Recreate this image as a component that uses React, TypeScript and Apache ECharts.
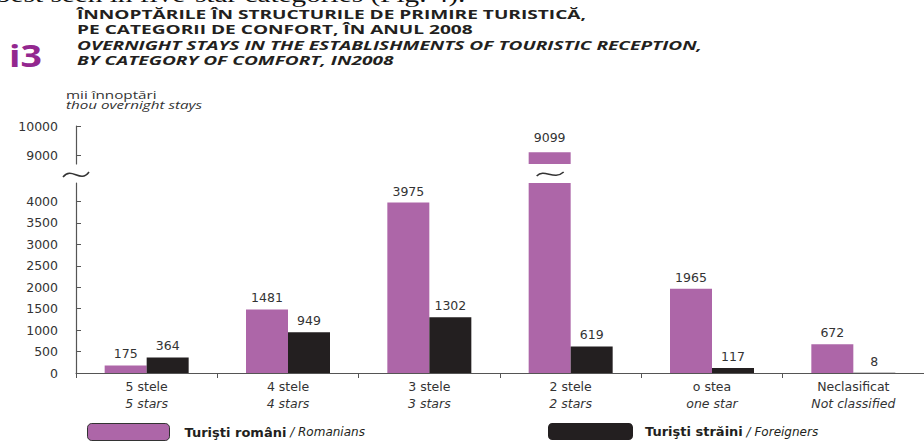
import React, { useEffect, useRef } from 'react';
import * as echarts from 'echarts';

const categoriesRo = ['5 stele', '4 stele', '3 stele', '2 stele', 'o stea', 'Neclasificat'];
const categoriesEn = ['5 stars', '4 stars', '3 stars', '2 stars', 'one star', 'Not classified'];
const romanians = [175, 1481, 3975, 9099, 1965, 672];
const foreigners = [364, 949, 1302, 619, 117, 8];
const lowerTicks = [0, 500, 1000, 1500, 2000, 2500, 3000, 3500, 4000];
const upperTicks = [9000, 10000];
const seriesNames = ['Turişti români', 'Turişti străini'];
const seriesNamesEn = ['Romanians', 'Foreigners'];

const LOWER_MAX = 4430;
const UPPER_MIN = 8700;
const UPPER_MAX = 10000;

const PURPLE = '#ad66a8';
const BLACK = '#231f20';
const WIDE = '"DejaVu Sans", "Open Sans", sans-serif';
const TITLE = '"Open Sans", "Noto Sans", sans-serif';

export default function App() {
  const ref = useRef<HTMLDivElement>(null);
  useEffect(() => {
    if (!ref.current) return;
    const chart = echarts.init(ref.current, null, { renderer: 'svg' });
    const labelStyle = { color: '#333', fontSize: 12.5, fontFamily: WIDE };
    const gridLeft = 76;
    const gridWidth = 858;
    const sx = 1.47;
    const option: any = {
      animation: false,
      textStyle: { fontFamily: WIDE },
      grid: [
        { left: gridLeft, width: gridWidth, top: 183, height: 190 },
        { left: gridLeft, width: gridWidth, top: 126, height: 38 },
      ],
      xAxis: [
        {
          type: 'category',
          gridIndex: 0,
          data: categoriesRo,
          axisLine: { lineStyle: { color: '#555', width: 1 } },
          axisTick: { show: true, length: 5, lineStyle: { color: '#555' } },
          axisLabel: {
            margin: 5,
            interval: 0,
            formatter: (v: string, i: number) => `{a|${v}}\n{b|${categoriesEn[i]}}`,
            rich: {
              a: { fontSize: 12.5, color: '#333', lineHeight: 17, fontFamily: WIDE },
              b: { fontSize: 12.5, color: '#333', lineHeight: 17, fontStyle: 'italic', fontFamily: WIDE },
            },
          },
        },
        {
          type: 'category',
          gridIndex: 1,
          data: categoriesRo,
          show: false,
        },
      ],
      yAxis: [
        {
          type: 'value',
          gridIndex: 0,
          min: 0,
          max: LOWER_MAX,
          splitLine: { show: false },
          axisLine: { show: true, lineStyle: { color: '#555', width: 1.2 } },
          axisTick: { show: true, inside: true, length: 5, customValues: lowerTicks, lineStyle: { color: '#555' } },
          axisLabel: { customValues: lowerTicks, margin: 18, ...labelStyle, formatter: (v: number) => String(v) },
        },
        {
          type: 'value',
          gridIndex: 1,
          min: UPPER_MIN,
          max: UPPER_MAX,
          splitLine: { show: false },
          axisLine: { show: true, lineStyle: { color: '#555', width: 1.2 } },
          axisTick: { show: true, inside: true, length: 5, customValues: upperTicks, lineStyle: { color: '#555' } },
          axisLabel: { customValues: upperTicks, margin: 18, ...labelStyle, formatter: (v: number) => String(v) },
        },
      ],
      legend: [
        {
          left: 87,
          top: 423,
          padding: 0,
          itemWidth: 82,
          itemHeight: 17,
          data: [seriesNames[0]],
          itemStyle: { borderColor: '#333', borderWidth: 1 },
          formatter: (n: string) => `{b|${n}} {i|/ ${seriesNamesEn[0]}}`,
          textStyle: {
            rich: {
              b: { fontWeight: 'bold', fontSize: 13, color: '#231f20', fontFamily: WIDE, padding: [0, 0, 0, 10] },
              i: { fontStyle: 'italic', fontSize: 12, color: '#231f20', fontFamily: WIDE },
            },
          },
        },
        {
          left: 548,
          top: 423,
          padding: 0,
          itemWidth: 85,
          itemHeight: 17,
          data: [seriesNames[1]],
          formatter: (n: string) => `{b|${n}} {i|/ ${seriesNamesEn[1]}}`,
          textStyle: {
            rich: {
              b: { fontWeight: 'bold', fontSize: 13, color: '#231f20', fontFamily: WIDE, padding: [0, 0, 0, 7] },
              i: { fontStyle: 'italic', fontSize: 12, color: '#231f20', fontFamily: WIDE },
            },
          },
        },
      ],
      series: [
        {
          name: seriesNames[0],
          type: 'bar',
          xAxisIndex: 0,
          yAxisIndex: 0,
          barWidth: 42,
          barGap: 0,
          clip: true,
          itemStyle: { color: PURPLE },
          label: { show: true, position: 'top', distance: 5, ...labelStyle },
          data: romanians.map((v) => (v > LOWER_MAX ? { value: v, label: { show: false } } : v)),
        },
        {
          name: seriesNames[1],
          type: 'bar',
          xAxisIndex: 0,
          yAxisIndex: 0,
          barWidth: 42,
          barGap: 0,
          itemStyle: { color: BLACK },
          label: { show: true, position: 'top', distance: 5, ...labelStyle },
          data: foreigners,
        },
        {
          name: seriesNames[0],
          type: 'bar',
          xAxisIndex: 1,
          yAxisIndex: 1,
          barWidth: 42,
          barGap: 0,
          clip: true,
          itemStyle: { color: PURPLE },
          label: { show: true, position: 'top', distance: 8, ...labelStyle },
          data: romanians.map((v) => (v > LOWER_MAX ? v : '-')),
        },
        {
          name: seriesNames[1],
          type: 'bar',
          xAxisIndex: 1,
          yAxisIndex: 1,
          barWidth: 42,
          barGap: 0,
          itemStyle: { color: BLACK },
          data: foreigners.map((v) => (v > LOWER_MAX ? v : '-')),
        },
      ],
      graphic: [
        {
          type: 'text',
          x: -4,
          y: 6,
          scaleX: 1.33,
          style: {
            text: 'best seen in five-star categories (Fig. 4).',
            font: '22px "Liberation Serif", serif',
            fill: '#111',
            verticalAlign: 'bottom',
          },
        },
        {
          type: 'text',
          x: 9,
          y: 56,
          scaleX: 1.25,
          style: {
            text: 'i3',
            font: 'bold 30px "Open Sans", sans-serif',
            fill: '#93278f',
            verticalAlign: 'middle',
          },
        },
        ...[
          ['ÎNNOPTĂRILE ÎN STRUCTURILE DE PRIMIRE TURISTICĂ,', 14, 'normal'],
          ['PE CATEGORII DE CONFORT, ÎN ANUL 2008', 29.5, 'normal'],
          ['OVERNIGHT STAYS IN THE ESTABLISHMENTS OF TOURISTIC RECEPTION,', 45, 'italic'],
          ['BY CATEGORY OF COMFORT, IN2008', 60, 'italic'],
        ].map(([t, y, s]) => ({
          type: 'text',
          x: 77,
          y: y as number,
          scaleX: sx,
          style: {
            text: t as string,
            font: `${s} bold 13px ${TITLE}`,
            fill: '#231f20',
            verticalAlign: 'middle',
          },
        })),
        {
          type: 'text',
          x: 66,
          y: 95,
          scaleX: 1.45,
          style: { text: 'mii înnoptări', font: `10.5px ${TITLE}`, fill: '#333', verticalAlign: 'middle' },
        },
        {
          type: 'text',
          x: 66,
          y: 105,
          scaleX: 1.45,
          style: { text: 'thou overnight stays', font: `italic 10.5px ${TITLE}`, fill: '#333', verticalAlign: 'middle' },
        },
        {
          type: 'bezierCurve',
          shape: { x1: 63, y1: 177, cpx1: 72, cpy1: 166, cpx2: 80, cpy2: 184, x2: 89, y2: 172 },
          style: { stroke: '#333', lineWidth: 1.6, fill: null },
        },
      ],
    };
    chart.setOption(option);
    // tilde on the broken bar, positioned from the axis scale
    const breakIdx = romanians.findIndex((v) => v > LOWER_MAX);
    if (breakIdx >= 0) {
      const p = chart.convertToPixel({ gridIndex: 0 }, [breakIdx, 0]) as number[];
      const cx = p[0] - 21;
      const cy = 174;
      chart.setOption({
        graphic: [
          ...option.graphic,
          {
            type: 'bezierCurve',
            shape: { x1: cx - 13, y1: cy + 2, cpx1: cx - 5, cpy1: cy - 6, cpx2: cx + 4, cpy2: cy + 7, x2: cx + 14, y2: cy - 2 },
            style: { stroke: '#333', lineWidth: 1.6, fill: null },
          },
        ],
      });
    }
    return () => chart.dispose();
  }, []);
  return (
    <div
      ref={ref}
      style={{ position: 'absolute', left: 0, top: 0, width: 924, height: 441, background: '#fff' }}
    />
  );
}
